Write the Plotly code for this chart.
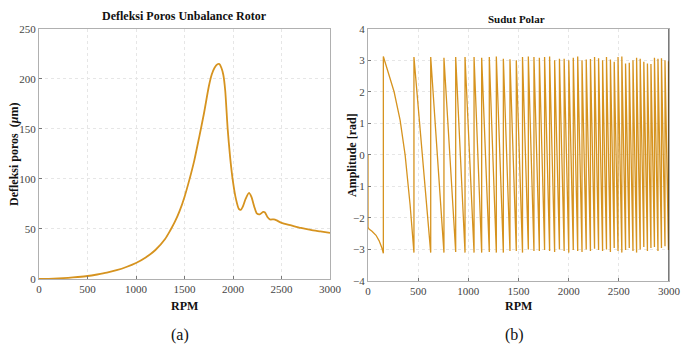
import plotly.graph_objects as go

# ---------- data: left panel (deflection) ----------
rpm_a = [0, 100, 200, 300, 400, 500, 600, 700, 800, 900, 1000, 1100, 1200, 1300, 1350,
         1400, 1450, 1500, 1550, 1600, 1650, 1700, 1750, 1780, 1810, 1840, 1860, 1880,
         1900, 1920, 1945, 1970, 2000, 2030, 2060, 2080, 2100, 2130, 2165, 2190, 2220,
         2245, 2275, 2310, 2330, 2355, 2380, 2420, 2450, 2500, 2600, 2700, 2800, 2900, 3000]
defl_a = [0, 0.2, 0.6, 1.2, 2.0, 3.0, 4.5, 6.3, 8.8, 12, 16, 21.5, 29, 40, 48,
          57, 68, 82, 99, 118, 141, 165, 192, 204, 211, 214.5, 214.7, 211,
          204, 188, 150, 122, 97, 80, 70, 69, 72, 80, 86, 82, 72,
          65.5, 64.5, 67, 66.5, 62, 59.5, 59.5, 58.5, 56, 53.5, 51, 49, 47.5, 46]

# ---------- data: right panel (polar angle) ----------
start_rpm = [0, 0, 10, 40, 80, 110, 135]
start_val = [0, -2.3, -2.35, -2.42, -2.55, -2.72, -2.92]
wrap_rpm = [153, 458, 625, 757, 874, 967, 1057, 1133, 1209, 1279, 1349, 1415, 1478,
            1540, 1598, 1654, 1708, 1760, 1810, 1860, 1908, 1955, 2001, 2046, 2090,
            2133, 2175, 2217, 2258, 2298, 2338, 2377, 2416, 2454, 2492, 2530, 2567,
            2604, 2641, 2677, 2713, 2749, 2785, 2820, 2855, 2890, 2925, 2960, 2995]
top_val = [3.12, 3.1, 3.1, 3.08, 3.1, 3.1, 3.1, 3.08, 3.1, 3.12, 3.05, 3.03, 3.0,
           3.1, 3.12, 3.1, 3.08, 3.1, 3.12, 3.0, 3.05, 3.05, 3.0, 3.08, 3.12,
           3.0, 3.02, 3.04, 3.1, 3.06, 3.0, 3.1, 3.02, 2.95, 3.1, 3.12, 2.9,
           2.92, 3.0, 3.08, 3.05, 2.95, 2.9, 2.88, 3.08, 3.05, 3.06, 3.0, 2.95]
bottom_val = [-3.12, -3.1, -3.1, -3.1, -3.08, -3.1, -3.1, -3.1, -3.08, -3.1, -3.1, -3.05, -3.05,
              -3.1, -3.0, -3.05, -3.05, -3.02, -3.05, -3.08, -3.0, -3.05, -3.1, -3.02, -3.05,
              -3.08, -3.0, -3.05, -2.98, -3.02, -3.05, -3.0, -3.08, -2.95, -3.05, -3.1, -3.02,
              -2.95, -3.05, -3.1, -3.0, -2.92, -3.05, -2.95, -2.92, -3.05, -2.95, -2.9, -3.02]
first_mid_rpm = [200, 260, 320, 370, 420]
first_mid_val = [2.6, 2.0, 1.1, 0.0, -1.6]
end_rpm, end_val = 3000, 2.95

# build the sawtooth polyline from read values
xb, yb = list(start_rpm), list(start_val)
for i, r in enumerate(wrap_rpm):
    xb += [r, r]
    yb += [bottom_val[i], top_val[i]]
    if i == 0:
        xb += first_mid_rpm
        yb += first_mid_val
xb.append(end_rpm)
yb.append(end_val)

ORANGE = "#D6931F"
FONT = "Liberation Serif"
GRID = "#e6e6e6"

fig = go.Figure()
fig.add_trace(go.Scatter(x=rpm_a, y=defl_a, mode="lines", line=dict(color=ORANGE, width=1.8, shape="spline", smoothing=0.6),
                         xaxis="x", yaxis="y", showlegend=False))
fig.add_trace(go.Scatter(x=xb, y=yb, mode="lines", line=dict(color=ORANGE, width=1.3),
                         xaxis="x2", yaxis="y2", showlegend=False))

axis_common = dict(showgrid=True, gridcolor=GRID, griddash="3px,3px", gridwidth=1, automargin=False,
                   ticks="inside", ticklen=3, tickcolor="#777", showline=True, linecolor="#b0b0b0",
                   mirror=True, zeroline=False, tickfont=dict(family=FONT, size=11, color="#444"))

fig.update_layout(
    width=688, height=352, margin=dict(l=0, r=0, t=0, b=0),
    paper_bgcolor="white", plot_bgcolor="white",
    xaxis=dict(domain=[39/688, 330/688], range=[0, 3000], tickvals=[0, 500, 1000, 1500, 2000, 2500, 3000],
               anchor="y", **axis_common),
    yaxis=dict(domain=[1-279/352, 1-28.7/352], range=[0, 250], tickvals=[0, 50, 100, 150, 200, 250],
               anchor="x", **axis_common),
    xaxis2=dict(domain=[368/688, 669/688], range=[0, 3000], tickvals=[0, 500, 1000, 1500, 2000, 2500, 3000],
                anchor="y2", **axis_common),
    yaxis2=dict(domain=[1-281/352, 1-28.7/352], range=[-4, 4], tickvals=list(range(-4, 5)),
                anchor="x2", **axis_common),
)
fig.add_shape(type="line", xref="x2", yref="y2", x0=3000, x1=3000, y0=-4, y1=4, line=dict(color="#222", width=1.2))

def ann(text, x, y, size, angle=0, bold=False):
    t = f"<b>{text}</b>" if bold else text
    fig.add_annotation(text=t, x=x/688, y=1-y/352, xref="paper", yref="paper", showarrow=False,
                       textangle=angle, font=dict(family=FONT, size=size, color="#111"),
                       xanchor="center", yanchor="middle")

ann("Defleksi Poros Unbalance Rotor", 185, 16, 12, bold=True)
ann("Sudut Polar", 516, 19, 11, bold=True)
ann("RPM", 185, 306, 12, bold=True)
ann("RPM", 518, 306, 12, bold=True)
ann("Defleksi poros  (<i>μ</i>m)", 14, 155, 12, angle=-90, bold=True)
ann("Amplitude [rad]", 352, 155, 12, angle=-90, bold=True)
ann("(a)", 180, 335, 16)
ann("(b)", 514, 335, 16)

fig.write_html("out.html", config={"displayModeBar": False},
               post_script="document.body.style.margin='0';document.body.style.overflow='hidden';")
